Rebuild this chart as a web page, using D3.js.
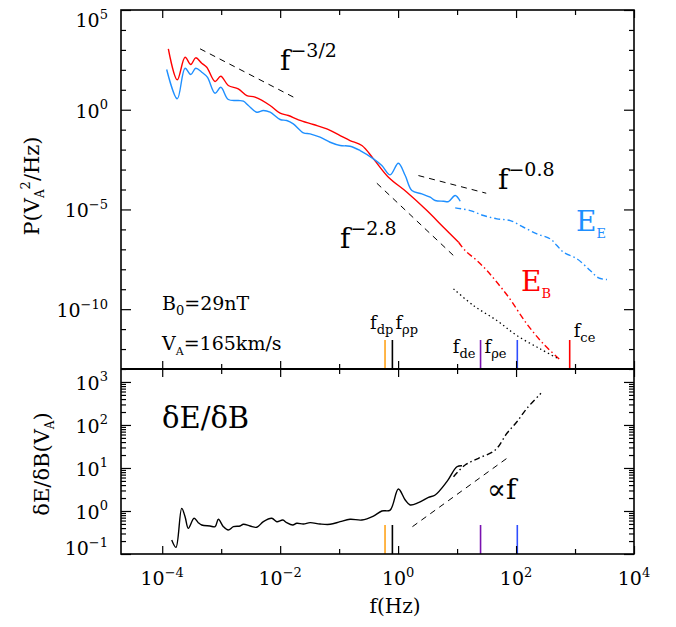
<!DOCTYPE html>
<html>
<head>
<meta charset="utf-8">
<script src="https://cdn.jsdelivr.net/npm/d3@7"></script>
<style>
body { margin: 0; background: #fff; }
svg text { font-family: "DejaVu Serif", serif; }
</style>
</head>
<body>
<script>
// ---- data ----
var xMajor = [1e-4, 1e-2, 1, 1e2, 1e4];
var xMinor = [1e-3, 1e-1, 10, 1e3];
var yTopMajor = [1e-10, 1e-5, 1, 1e5];
var yBotMajor = [0.1, 1, 10, 100, 1000];

// E_B magnetic spectrum (solid part, then extrapolated dash-dot)
var ebFreq = [1.27e-4, 1.80e-4, 2.44e-4, 3.05e-4, 3.70e-4, 4.68e-4, 5.69e-4, 7.87e-4, 9.84e-4, 1.32e-3, 1.95e-3, 2.72e-3, 3.75e-3, 6.75e-3, 9.98e-3, 1.38e-2, 2.04e-2, 3.66e-2, 6.18e-2, 0.104, 0.153, 0.243, 0.382, 0.686, 1.41, 3.08, 5.88, 10.6];
var ebPow = [1130, 31.6, 430, 185, 400, 215, 135, 26, 47.9, 16.4, 11.2, 5.15, 4.24, 1.63, 0.667, 0.512, 0.311, 0.181, 0.110, 0.0508, 0.0285, 0.016, 3.45e-3, 4.12e-4, 7.3e-5, 8.8e-6, 1.28e-6, 2.26e-7];
var ebFreqExt = [10.6, 13.7, 21.7, 32.1, 47.3, 75, 153, 292, 561];
var ebPowExt = [2.26e-7, 8.7e-8, 2.74e-8, 8.6e-9, 2.23e-9, 3.95e-10, 1.8e-11, 1.8e-12, 2.87e-13];

// E_E electric spectrum
var eeFreq = [1.19e-4, 1.80e-4, 2.44e-4, 3.05e-4, 3.70e-4, 4.68e-4, 5.82e-4, 7.87e-4, 9.84e-4, 1.32e-3, 1.95e-3, 2.38e-3, 2.89e-3, 4.01e-3, 5.19e-3, 6.75e-3, 9.98e-3, 1.29e-2, 1.67e-2, 2.48e-2, 3.22e-2, 4.75e-2, 7.03e-2, 0.104, 0.153, 0.227, 0.382, 0.53, 0.733, 1.01, 1.32, 1.71, 2.53, 3.5, 4.25, 5.88, 7.14, 9.29, 11.3];
var eePow = [104, 3.52, 120, 58, 120, 76, 42.7, 6.7, 13.4, 3.25, 2.89, 2.67, 1.63, 0.75, 0.912, 0.75, 0.323, 0.287, 0.196, 0.0695, 0.0618, 0.0418, 0.0234, 0.016, 0.0148, 9.0e-3, 3.45e-3, 1.59e-3, 5.4e-4, 2.07e-3, 5.0e-4, 8.9e-5, 6.05e-5, 4.1e-5, 2.8e-5, 2.58e-5, 2.49e-5, 4.98e-5, 2.58e-5];
var eeFreqExt = [9.29, 16.7, 28.1, 47.3, 79.6, 134, 226, 380, 493, 638, 1080, 1810, 2500, 3480];
var eePowExt = [1.2e-5, 8.8e-6, 4.95e-6, 3.38e-6, 2.77e-6, 1.28e-6, 5.97e-7, 3.35e-7, 1.55e-7, 7.1e-8, 3.33e-8, 8.6e-9, 3.7e-9, 3.05e-9];

// dotted noise level
var noiseFreq = [8.7, 19, 47.3, 103.5, 257, 526];
var noisePow = [1.04e-9, 1.51e-10, 2.68e-11, 4.74e-12, 1.02e-12, 3.2e-13];

// dE/dB ratio
var ratioFreq = [1.45e-4, 1.71e-4, 2.14e-4, 2.44e-4, 2.77e-4, 3.47e-4, 4.09e-4, 4.68e-4, 6.47e-4, 7.87e-4, 8.95e-4, 1.09e-3, 1.32e-3, 1.61e-3, 2.09e-3, 2.38e-3, 3.09e-3, 4.01e-3, 5.19e-3, 7.21e-3, 8.77e-3, 1.11e-2, 1.29e-2, 1.64e-2, 1.91e-2, 2.48e-2, 3.22e-2, 4.75e-2, 7.03e-2, 0.104, 0.153, 0.243, 0.382, 0.53, 0.733, 1.01, 1.32, 1.6, 2.21, 3.27, 4.25, 6.71, 9.93, 12.1];
var ratioVal = [0.211, 0.143, 1.15, 0.736, 0.395, 0.676, 0.535, 0.472, 0.448, 0.431, 0.641, 0.431, 0.361, 0.431, 0.448, 0.49, 0.448, 0.418, 0.564, 0.676, 0.564, 0.617, 0.535, 0.472, 0.518, 0.498, 0.535, 0.498, 0.49, 0.564, 0.641, 0.617, 0.764, 1.0, 1.05, 3.24, 1.8, 1.38, 1.56, 2.08, 2.35, 4.8, 10.7, 11.3];
var ratioFreqExt = [8.7, 13.7, 23.1, 44.3, 70, 103.5, 153, 264];
var ratioValExt = [6.26, 11.7, 16.8, 26.1, 64, 119, 244, 543];

// characteristic frequencies (f_ce only marked in the spectrum panel)
var markFreq = [0.6, 0.8, 25, 105, 812];
var markColor = ["#ffa31a", "#000000", "#7a12b0", "#2f4dff", "#ff0000"];
var markInRatio = [true, true, true, true, false];

// power-law guides [f0, P0, f1, P1]
var fitTop = [[4.38e-4, 1132, 1.91e-2, 3.52], [2.21, 5.0e-4, 31.2, 6.5e-5], [0.436, 2.06e-4, 8.69, 4.88e-8]];
var fitBot = [[1.75, 0.432, 70, 16.8]];

// ---- scales ----
var x = d3.scaleLog().domain([2e-5, 1e4]).range([121, 634]);
var yTop = d3.scaleLog().domain([1e-13, 1e5]).range([369, 10]);
var yBot = d3.scaleLog().domain([0.1, 2000]).range([554, 369]);

var svg = d3.select("body").append("svg")
	.attr("width", 676)
	.attr("height", 627);

function curve(ys, fs, vs, color, dash, w) {
	svg.append("path")
		.datum(d3.zip(fs, vs))
		.attr("fill", "none")
		.attr("stroke", color)
		.attr("stroke-width", w || 1.4)
		.attr("stroke-dasharray", dash || null)
		.attr("d", d3.line().x(d => x(d[0])).y(d => ys(d[1])).curve(d3.curveCatmullRom.alpha(0.5)));
}

function guide(ys, f) {
	svg.append("line")
		.attr("x1", x(f[0])).attr("y1", ys(f[1]))
		.attr("x2", x(f[2])).attr("y2", ys(f[3]))
		.attr("stroke", "#000").attr("stroke-width", 1)
		.attr("stroke-dasharray", "6,5");
}

// text with sub/superscripts: parts = [text, shift, size]
function rich(px, py, parts, opts) {
	opts = opts || {};
	var t = svg.append("text")
		.attr("x", px).attr("y", py)
		.attr("text-anchor", opts.anchor || "start")
		.attr("fill", opts.color || "#000");
	if (opts.transform) t.attr("transform", opts.transform).attr("x", 0).attr("y", 0);
	var cur = 0;
	parts.forEach(function(p) {
		t.append("tspan")
			.attr("dy", p[1] - cur)
			.attr("font-size", p[2])
			.attr("dx", p[3] || 0)
			.text(p[0]);
		cur = p[1];
	});
	return t;
}

function expLabel(px, py, e, anchor) {
	rich(px, py, [["10", 0, 19], [e < 0 ? "\u2212" + (-e) : String(e), -8.5, 13]], {anchor: anchor});
}

// ---- curves ----
curve(yTop, ebFreq, ebPow, "#ff0000");
curve(yTop, ebFreqExt, ebPowExt, "#ff0000", "6,3,1.5,3");
curve(yTop, eeFreq, eePow, "#1e8fff");
curve(yTop, eeFreqExt, eePowExt, "#1e8fff", "6,3,1.5,3");
curve(yTop, noiseFreq, noisePow, "#000", "1.4,3", 1.3);
curve(yBot, ratioFreq, ratioVal, "#000");
curve(yBot, ratioFreqExt, ratioValExt, "#000", "6,3,1.5,3");

fitTop.forEach(f => guide(yTop, f));
fitBot.forEach(f => guide(yBot, f));

// ---- characteristic frequency markers ----
markFreq.forEach(function(f, i) {
	var panels = [[yTop, 1e-13]];
	if (markInRatio[i]) panels.push([yBot, 0.1]);
	panels.forEach(function(p) {
		svg.append("line")
			.attr("x1", x(f)).attr("x2", x(f))
			.attr("y1", p[0](p[1])).attr("y2", p[0](p[1]) - 29)
			.attr("stroke", markColor[i]).attr("stroke-width", 1.6);
	});
});

// ---- axes ----
function xTicks(yPos, up) {
	[[xMajor, 8], [xMinor, 5]].forEach(function(a) {
		svg.append("g")
			.attr("transform", "translate(0," + yPos + ")")
			.call((up ? d3.axisBottom(x) : d3.axisTop(x)).tickValues(a[0]).tickSize(-a[1]).tickFormat(""))
			.call(g => g.select(".domain").remove());
	});
}
function yTicks(ys, major, minor) {
	[[major, 10], [minor, 5]].forEach(function(a) {
		svg.append("g").attr("transform", "translate(121,0)")
			.call(d3.axisLeft(ys).tickValues(a[0]).tickSize(-a[1]).tickFormat(""))
			.call(g => g.select(".domain").remove());
		svg.append("g").attr("transform", "translate(634,0)")
			.call(d3.axisRight(ys).tickValues(a[0]).tickSize(-a[1]).tickFormat(""))
			.call(g => g.select(".domain").remove());
	});
}

xTicks(10, false);
xTicks(369, true);
xTicks(369, false);
xTicks(554, true);

var topMinor = d3.range(-12, 5).map(e => Math.pow(10, e)).filter(v => yTopMajor.indexOf(v) < 0);
yTicks(yTop, yTopMajor, topMinor);
var botMinor = yBot.ticks().filter(v => yBotMajor.indexOf(v) < 0);
yTicks(yBot, yBotMajor, botMinor);

svg.selectAll(".tick line").attr("stroke-width", 1.2);

svg.append("rect")
	.attr("x", 121).attr("y", 10)
	.attr("width", 513).attr("height", 544)
	.attr("fill", "none").attr("stroke", "#000").attr("stroke-width", 1.6);
svg.append("line")
	.attr("x1", 121).attr("x2", 634).attr("y1", 369).attr("y2", 369)
	.attr("stroke", "#000").attr("stroke-width", 2);

// tick labels
xMajor.forEach(v => expLabel(x(v), 585, Math.round(Math.log10(v)), "middle"));
yTopMajor.forEach(v => expLabel(108, Math.max(yTop(v) + 8, 27), Math.round(Math.log10(v)), "end"));
yBotMajor.forEach(v => expLabel(108, Math.min(yBot(v) + 8, 555), Math.round(Math.log10(v)), "end"));

// axis titles
rich(395, 613, [["f(Hz)", 0, 20]], {anchor: "middle"});
rich(0, 0, [["P(V", 0, 21], ["A", 5, 12], ["2", -9, 13], ["/Hz)", 0, 21]], {anchor: "middle", transform: "translate(39,186) rotate(-90)"});
rich(0, 0, [["\u03b4E/\u03b4B(V", 0, 21], ["A", 5, 12], [")", 0, 21]], {anchor: "middle", transform: "translate(49,464) rotate(-90)"});

// annotations
rich(280, 70, [["f", 0, 28], ["\u22123/2", -13, 19]]);
rich(498, 189, [["f", 0, 28], ["\u22120.8", -13, 19]]);
rich(340, 248, [["f", 0, 28], ["\u22122.8", -13, 19]]);
rich(576, 231, [["E", 0, 28], ["E", 7, 13]], {color: "#1e8fff"});
rich(521, 291, [["E", 0, 28], ["B", 7, 13]], {color: "#ff0000"});
rich(162, 310, [["B", 0, 19], ["0", 5, 13], ["=29nT", 0, 19]]);
rich(162, 350, [["V", 0, 19], ["A", 5, 11], ["=165km/s", 0, 19]]);
rich(162, 428, [["\u03b4E/\u03b4B", 0, 29]]);
rich(487, 499, [["\u221df", 0, 28]]);

// characteristic frequency labels
rich(x(0.8) + 1, 329, [["f", 0, 18], ["dp", 5, 13]], {anchor: "end"});
rich(x(0.8) + 3, 329, [["f", 0, 18], ["\u03c1p", 5, 13]]);
rich(x(25) - 5, 353, [["f", 0, 18], ["de", 5, 13]], {anchor: "end"});
rich(x(25) + 4, 353, [["f", 0, 18], ["\u03c1e", 5, 13]]);
rich(x(812) + 4, 337, [["f", 0, 18], ["ce", 5, 13]]);
</script>
</body>
</html>
